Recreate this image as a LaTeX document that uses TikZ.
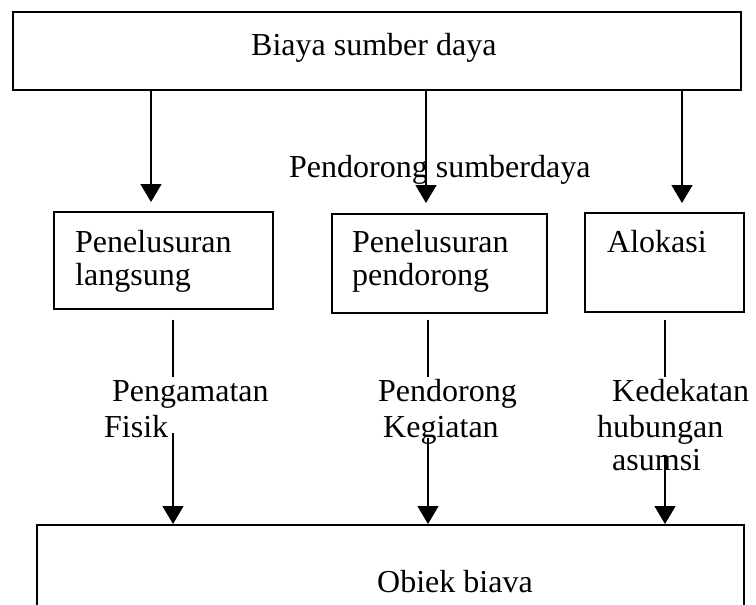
\documentclass[tikz,border=0pt]{standalone}
\usepackage{fontspec}
\setmainfont{Liberation Serif}
\usetikzlibrary{arrows.meta}
\begin{document}
\begin{tikzpicture}[x=1pt,y=-1pt,
  box/.style={draw, line width=1.6pt, inner sep=0pt, anchor=north west},
  txt/.style={anchor=base west, inner sep=0pt, font=\fontsize{32}{38}\selectfont},
  conn/.style={line width=1.4pt},
  arr/.style={conn, -{Triangle[width=21pt,length=18pt]}}]
\useasboundingbox (0,0) rectangle (756,605);

% boxes
\node[box, minimum width=728pt, minimum height=78pt] (top) at (12,11) {};
\node[box, minimum width=219pt, minimum height=97pt] (b1) at (53,211) {};
\node[box, minimum width=215pt, minimum height=99pt] (b2) at (331,213) {};
\node[box, minimum width=159pt, minimum height=99pt] (b3) at (584,212) {};
\node[box, minimum width=707pt, minimum height=80.5pt] (bot) at (36,524) {};

% box texts
\node[txt] (tTop) at (251,56) {Biaya sumber daya};
\node[txt] (t1a) at (75,252) {Penelusuran};
\node[txt] (t1b) at (75,285) {langsung};
\node[txt] (t2a) at (352,252) {Penelusuran};
\node[txt] (t2b) at (352,285) {pendorong};
\node[txt] (t3a) at (607,252) {Alokasi};
\node[txt] (tBot) at (377,592) {Obiek biava};

% connector labels
\node[txt] (lTop) at (289,177) {Pendorong sumberdaya};
\node[txt] (l1a) at (112,401) {Pengamatan};
\node[txt] (l1b) at (104,437) {Fisik};
\node[txt] (l2a) at (378,401) {Pendorong};
\node[txt] (l2b) at (383,437) {Kegiatan};
\node[txt] (l3a) at (612,401) {Kedekatan};
\node[txt] (l3b) at (597,437) {hubungan};
\node[txt] (l3c) at (612,470) {asumsi};

% column positions of the upper arrows
\coordinate (u1) at (151,0);
\coordinate (u2) at (426,0);
\coordinate (u3) at (682,0);

% upper arrows
\draw[arr, shorten >=9pt] (top.south -| u1) -- (b1.north -| u1);
\draw[arr, shorten >=10pt] (top.south -| u2) -- (b2.north -| u2);
\draw[arr, shorten >=9pt] (top.south -| u3) -- (b3.north -| u3);

% lower connectors, broken around their labels
\coordinate (g1a) at (173,377);
\coordinate (g1b) at (173,433);
\coordinate (g2a) at (428,377);
\coordinate (g2b) at (428,438);
\coordinate (g3a) at (665,377);
\coordinate (g3b) at (665,455);

\draw[conn, shorten <=10pt] (b1.south -| g1a) -- (g1a);
\draw[arr] (g1b) -- (bot.north -| g1b);
\draw[conn, shorten <=6pt] (b2.south -| g2a) -- (g2a);
\draw[arr] (g2b) -- (bot.north -| g2b);
\draw[conn, shorten <=7pt] (b3.south -| g3a) -- (g3a);
\draw[arr] (g3b) -- (bot.north -| g3b);
\end{tikzpicture}
\end{document}
